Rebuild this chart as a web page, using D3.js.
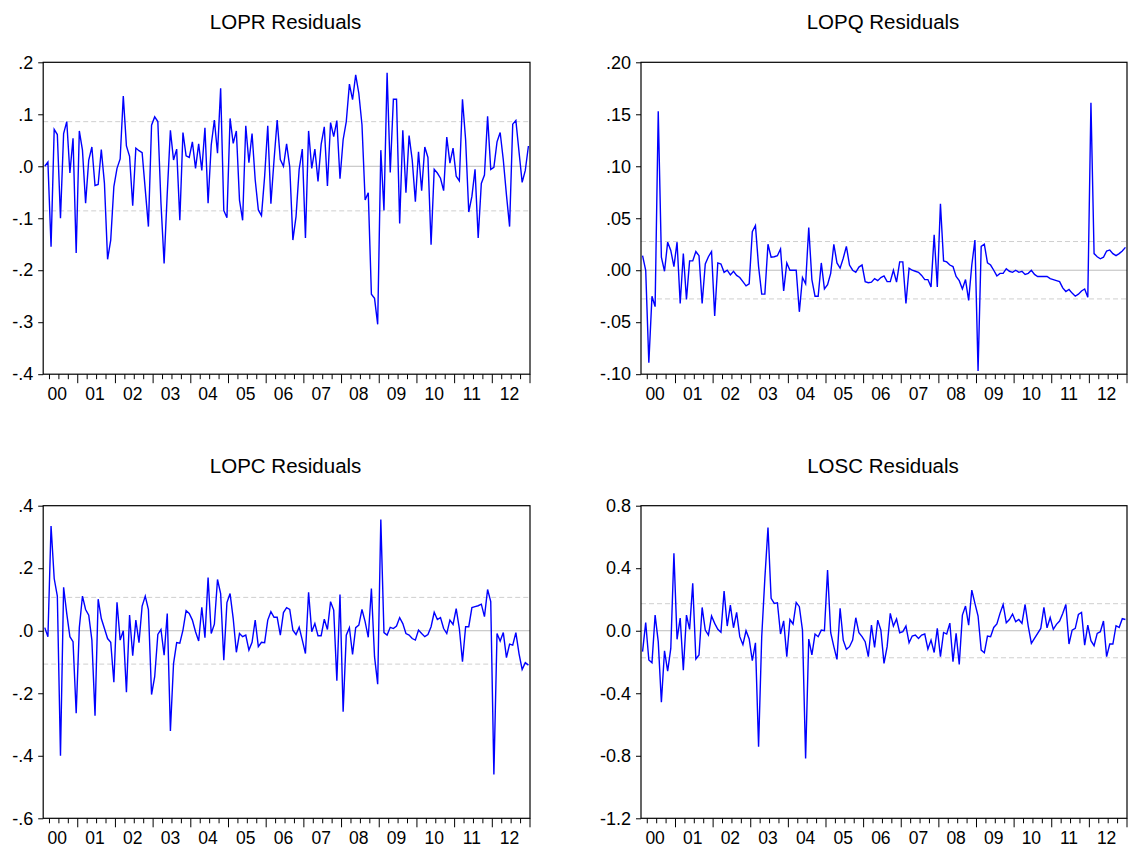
<!DOCTYPE html>
<html>
<head>
<meta charset="utf-8">
<script src="https://cdn.jsdelivr.net/npm/d3@7"></script>
<style>
  html, body { margin: 0; padding: 0; background: #fff; }
  svg { display: block; }
  text { font-family: "Liberation Sans", Arial, sans-serif; fill: #000; }
</style>
</head>
<body>
<svg id="chart" width="1129" height="850"></svg>
<script>
// ---- data (monthly observations 2000M02 .. 2012M12) ----
const startYear = 2000, startMonth = 2;
const yearLabels = ["00","01","02","03","04","05","06","07","08","09","10","11","12"];

const titles = ["LOPR Residuals", "LOPQ Residuals", "LOPC Residuals", "LOSC Residuals"];

const lopr = [0.000,0.008,-0.155,0.071,0.061,-0.100,0.063,0.086,-0.013,0.054,
  -0.167,0.068,0.031,-0.071,0.012,0.037,-0.037,-0.035,0.032,-0.033,
  -0.179,-0.142,-0.039,-0.004,0.014,0.135,0.039,0.019,-0.076,0.035,
  0.030,0.026,-0.045,-0.116,0.079,0.095,0.086,-0.071,-0.187,-0.052,
  0.069,0.012,0.033,-0.104,0.065,0.020,0.017,0.047,-0.004,0.043,
  -0.008,0.074,-0.071,0.041,0.089,0.025,0.150,-0.085,-0.099,0.092,
  0.044,0.068,-0.065,-0.104,0.078,0.007,0.063,-0.026,-0.084,-0.095,
  -0.020,0.078,-0.072,0.012,0.089,0.013,0.000,0.043,-0.001,-0.142,
  -0.097,-0.006,0.033,-0.138,0.068,-0.004,0.033,-0.029,0.042,0.076,
  -0.038,0.084,0.057,0.088,-0.024,0.051,0.086,0.158,0.128,0.176,
  0.140,0.080,-0.065,-0.051,-0.246,-0.254,-0.304,0.031,-0.085,0.180,
  -0.012,0.129,0.129,-0.110,0.069,-0.051,0.059,0.012,-0.068,0.028,
  -0.047,0.037,0.017,-0.151,-0.006,-0.013,-0.023,-0.047,0.056,0.006,
  0.035,-0.019,-0.028,0.129,0.051,-0.088,-0.058,-0.006,-0.138,-0.033,
  -0.017,0.096,-0.006,-0.002,0.047,0.065,0.012,-0.055,-0.116,0.081,
  0.088,0.028,-0.031,-0.008,0.039];

const lopq = [0.014,0.000,-0.089,-0.025,-0.035,0.153,0.0125,-0.001,0.027,0.019,
  0.0035,0.027,-0.032,0.016,-0.028,0.009,0.009,0.018,0.014,-0.032,
  0.006,0.013,0.018,-0.044,0.007,0.006,-0.002,0.000,-0.0045,-0.001,
  -0.005,-0.007,-0.011,-0.015,-0.013,0.037,0.043,0.0035,-0.023,-0.023,
  0.025,0.0125,0.013,0.014,0.0205,-0.020,0.007,0.000,0.000,0.000,
  -0.040,-0.007,-0.013,0.041,-0.009,-0.025,-0.025,0.007,-0.018,-0.014,
  -0.003,0.025,0.007,0.002,0.0115,0.023,0.005,0.000,-0.002,0.003,
  0.005,-0.011,-0.012,-0.0115,-0.008,-0.010,-0.007,-0.0055,-0.011,-0.011,
  0.000,-0.0115,0.008,0.008,-0.032,0.002,0.000,-0.001,-0.002,-0.005,
  -0.009,-0.009,-0.016,0.034,-0.016,0.064,0.009,0.008,0.005,0.0035,
  -0.006,-0.010,-0.018,-0.009,-0.029,0.005,0.029,-0.097,0.023,0.025,
  0.007,0.005,0.000,-0.0055,-0.003,-0.003,0.0015,-0.001,-0.002,0.000,
  -0.002,-0.001,-0.004,-0.003,0.000,-0.004,-0.006,-0.006,-0.006,-0.006,
  -0.008,-0.009,-0.010,-0.011,-0.017,-0.0205,-0.0185,-0.022,-0.025,-0.023,
  -0.020,-0.018,-0.026,0.161,0.016,0.013,0.011,0.0125,0.0185,0.0195,
  0.016,0.014,0.016,0.0185,0.022];

const lopc = [0.010,-0.019,0.335,0.167,0.111,-0.400,0.139,0.055,-0.019,-0.035,
  -0.264,0.010,0.111,0.068,0.050,-0.030,-0.272,0.101,0.039,0.007,
  -0.025,-0.037,-0.165,0.091,-0.030,0.000,-0.197,0.050,-0.080,0.034,
  -0.038,0.079,0.111,0.068,-0.204,-0.147,-0.012,0.004,-0.078,0.055,
  -0.321,-0.105,-0.038,-0.040,0.002,0.064,0.055,0.034,-0.003,-0.033,
  0.075,-0.022,0.170,-0.009,0.021,0.164,0.119,-0.094,0.090,0.119,
  0.039,-0.069,-0.009,-0.019,-0.014,-0.062,-0.037,0.034,-0.051,-0.037,
  -0.038,0.034,0.061,0.043,0.043,-0.014,0.058,0.074,0.068,0.002,
  -0.012,0.011,-0.030,-0.073,0.123,-0.003,0.023,-0.016,-0.016,0.037,
  0.004,0.093,0.066,-0.160,0.116,-0.259,-0.014,0.010,-0.076,0.010,
  0.018,0.068,0.029,-0.021,0.135,-0.083,-0.171,0.356,-0.006,-0.014,
  0.011,0.007,0.015,0.042,0.023,-0.009,-0.014,-0.025,-0.030,0.002,
  -0.009,-0.019,-0.012,0.013,0.059,0.036,0.042,0.007,-0.009,0.034,
  0.020,0.071,0.007,-0.099,0.013,0.013,0.074,0.077,0.080,0.085,
  0.045,0.132,0.093,-0.460,-0.009,-0.033,-0.006,-0.086,-0.043,-0.046,
  -0.006,-0.073,-0.124,-0.102,-0.110];

const losc = [-0.134,0.053,-0.187,-0.205,0.100,-0.070,-0.458,-0.128,-0.258,-0.113,
  0.495,-0.055,0.081,-0.252,0.100,0.009,0.303,-0.181,-0.155,0.149,
  0.004,-0.028,0.094,0.047,0.009,-0.010,0.254,0.030,0.164,0.019,
  0.117,-0.038,-0.089,0.000,-0.053,-0.192,-0.077,-0.742,-0.038,0.335,
  0.661,0.207,0.175,0.179,-0.021,0.063,-0.166,0.072,0.043,0.181,
  0.154,0.004,-0.817,-0.053,-0.155,-0.021,-0.038,0.004,0.000,0.388,
  -0.013,-0.102,-0.183,0.143,-0.060,-0.119,-0.102,-0.060,0.083,-0.013,
  -0.038,-0.070,-0.166,0.036,-0.107,0.068,0.004,-0.209,-0.102,0.111,
  0.030,0.075,-0.013,-0.006,0.030,-0.077,-0.034,-0.028,-0.049,-0.028,
  -0.021,-0.117,-0.060,-0.139,0.015,-0.166,-0.011,-0.021,0.049,-0.198,
  -0.017,-0.215,0.100,0.158,0.036,0.260,0.175,0.094,-0.124,-0.141,
  -0.034,-0.038,0.021,0.043,0.111,0.168,0.051,0.072,0.107,0.058,
  0.072,0.047,0.168,0.030,-0.081,-0.049,-0.017,0.015,0.149,0.019,
  0.085,0.009,0.041,0.062,0.111,0.168,-0.085,0.004,0.015,0.104,
  0.117,-0.092,0.036,-0.064,-0.096,-0.017,-0.006,0.062,-0.166,-0.085,
  -0.085,0.032,0.021,0.077,0.072];

const bandLevels = [0.0858, 0.0276, 0.1067, 0.173];   // +/- 1 S.E. lines
const yTickValues = [
  [0.2, 0.1, 0.0, -0.1, -0.2, -0.3, -0.4],
  [0.20, 0.15, 0.10, 0.05, 0.00, -0.05, -0.10],
  [0.4, 0.2, 0.0, -0.2, -0.4, -0.6],
  [0.8, 0.4, 0.0, -0.4, -0.8, -1.2]
];
const yTickLabels = [
  [".2", ".1", ".0", "-.1", "-.2", "-.3", "-.4"],
  [".20", ".15", ".10", ".05", ".00", "-.05", "-.10"],
  [".4", ".2", ".0", "-.2", "-.4", "-.6"],
  ["0.8", "0.4", "0.0", "-0.4", "-0.8", "-1.2"]
];
const seriesList = [lopr, lopq, lopc, losc];

// ---- layout ----
const boxes = [
  {x0: 43.2, x1: 530,  y0: 62.3,  y1: 374.2, titleY: 29},
  {x0: 641,  x1: 1127, y0: 62.3,  y1: 374.2, titleY: 29},
  {x0: 43.2, x1: 530,  y0: 505.7, y1: 818.3, titleY: 473},
  {x0: 641,  x1: 1127, y0: 505.7, y1: 818.3, titleY: 473}
];

const svg = d3.select("#chart");
const nObs = lopr.length;
const offset = startMonth - 1;

seriesList.forEach((vals, p) => {
  const b = boxes[p];
  const tv = yTickValues[p];
  const x = d3.scaleLinear().domain([-0.5, nObs - 0.5]).range([b.x0, b.x1]);
  const y = d3.scaleLinear().domain([d3.min(tv), d3.max(tv)]).range([b.y1, b.y0]);
  const g = svg.append("g");

  // title
  g.append("text")
    .attr("x", (b.x0 + b.x1) / 2 - 1).attr("y", b.titleY)
    .attr("text-anchor", "middle").style("font-size", "20.5px")
    .text(titles[p]);

  // zero line & S.E. bands
  g.append("line").attr("x1", b.x0).attr("x2", b.x1)
    .attr("y1", y(0)).attr("y2", y(0))
    .attr("stroke", "#bdbdbd").attr("stroke-width", 1);
  [bandLevels[p], -bandLevels[p]].forEach(v => {
    g.append("line").attr("x1", b.x0).attr("x2", b.x1)
      .attr("y1", y(v)).attr("y2", y(v))
      .attr("stroke", "#cfcfcf").attr("stroke-width", 1)
      .attr("stroke-dasharray", "5,3");
  });

  // series line
  const line = d3.line().x((d, i) => x(i)).y(d => y(d));
  g.append("path").datum(vals)
    .attr("fill", "none").attr("stroke", "#0000ff")
    .attr("stroke-width", 1.4).attr("stroke-linejoin", "miter")
    .attr("d", line);

  // frame
  g.append("rect").attr("x", b.x0).attr("y", b.y0)
    .attr("width", b.x1 - b.x0).attr("height", b.y1 - b.y0)
    .attr("fill", "none").attr("stroke", "#000").attr("stroke-width", 1.2);

  // y axis
  const yAxis = d3.axisLeft(y).tickValues(tv)
    .tickFormat((d, i) => yTickLabels[p][i])
    .tickSize(5).tickPadding(5);
  const ya = g.append("g").attr("transform", `translate(${b.x0},0)`).call(yAxis);
  ya.select(".domain").remove();
  ya.selectAll("text").style("font-size", "18px")
    .attr("font-family", "Liberation Sans, Arial, sans-serif").attr("fill", "#000");
  ya.selectAll("line").attr("stroke", "#000");

  // x axis: quarter boundaries (minor), year boundaries (major)
  const bounds = d3.range(0, nObs + 1).filter(k => (k + offset) % 3 === 0 && k > 0);
  const xa = g.append("g");
  xa.selectAll("line").data(bounds).join("line")
    .attr("x1", k => x(k - 0.5)).attr("x2", k => x(k - 0.5))
    .attr("y1", b.y1)
    .attr("y2", k => b.y1 + (((k + offset) % 12 === 0) ? 9 : 5))
    .attr("stroke", "#000").attr("stroke-width", 1);
  xa.selectAll("text").data(yearLabels).join("text")
    .attr("x", (d, i) => x(i * 12 - offset + 5.5 - 0.5))
    .attr("y", b.y1 + 26)
    .attr("text-anchor", "middle").style("font-size", "17.5px")
    .text(d => d);
});
</script>
</body>
</html>
